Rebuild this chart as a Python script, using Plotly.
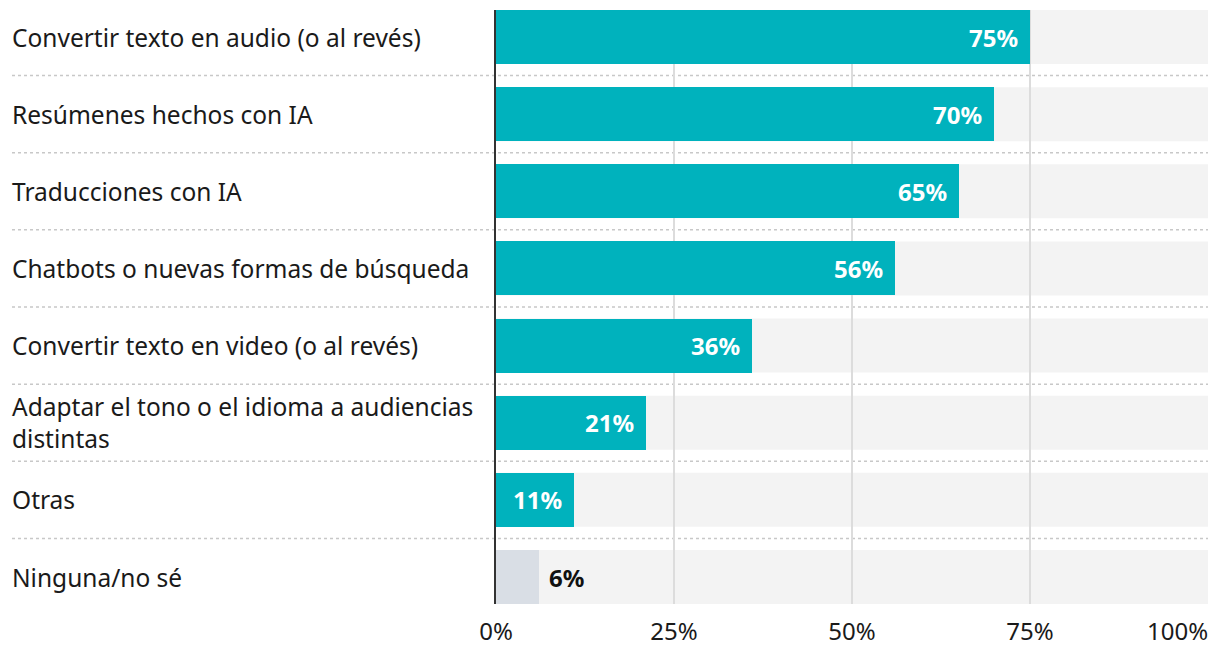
import plotly.graph_objects as go

categories = [
    "Convertir texto en audio (o al revés)",
    "Resúmenes hechos con IA",
    "Traducciones con IA",
    "Chatbots o nuevas formas de búsqueda",
    "Convertir texto en video (o al revés)",
    "Adaptar el tono o el idioma a audiencias<br>distintas",
    "Otras",
    "Ninguna/no sé",
]
values = [75, 70, 65, 56, 36, 21, 11, 6]
highlight = [True, True, True, True, True, True, True, False]
tick_vals = [0, 25, 50, 75, 100]
tick_text = ["0%", "25%", "50%", "75%", "100%"]

TEAL = "#00b2bd"
GREY_BAR = "#d9dee5"
BG = "#f3f3f3"
FONT = "Noto Sans"
BAR_W = 0.7

# page body has an 8px margin; size the figure to compensate
OFF = 8
W, H = 1204, 642
ML, MR, MT, MB = 496 - OFF, 4, 10 - OFF, 46
plot_w = W - ML - MR

idx = list(range(len(categories)))

fig = go.Figure()
fig.add_trace(go.Bar(
    y=idx, x=values, orientation="h", width=BAR_W,
    marker=dict(color=[TEAL if h else GREY_BAR for h in highlight], line=dict(width=0)),
    hoverinfo="skip", showlegend=False,
))

shapes = []
for i in idx:
    shapes.append(dict(type="rect", xref="x", yref="y", x0=0, x1=100,
                       y0=i - BAR_W / 2, y1=i + BAR_W / 2,
                       fillcolor=BG, line=dict(width=0), layer="below"))
for i in idx[:-1]:
    shapes.append(dict(type="line", xref="paper", yref="y",
                       x0=(12 - 496) / plot_w, x1=1, y0=i + 0.5, y1=i + 0.5,
                       line=dict(color="#c8c8c8", width=1.5, dash="dot"), layer="below"))

annotations = []
for i, (c, v, h) in enumerate(zip(categories, values, highlight)):
    annotations.append(dict(
        xref="paper", yref="y", x=0, y=i, xanchor="left", yanchor="middle",
        xshift=10 - 496, text=c, showarrow=False, align="left",
        font=dict(family=FONT, size=24.5, color="#1a1a1a"),
    ))
    if h:
        annotations.append(dict(
            xref="x", yref="y", x=v, y=i, xanchor="right", yanchor="middle",
            xshift=-10, text=f"<b>{v}%</b>", showarrow=False,
            font=dict(family=FONT, size=24, color="white"),
        ))
    else:
        annotations.append(dict(
            xref="x", yref="y", x=v, y=i, xanchor="left", yanchor="middle",
            xshift=8, text=f"<b>{v}%</b>", showarrow=False,
            font=dict(family=FONT, size=24, color="#111111"),
        ))

# last tick label is right-aligned to the plot edge
annotations.append(dict(
    xref="x", yref="paper", x=tick_vals[-1], y=0, xanchor="right", yanchor="middle",
    xshift=2, yshift=-26, text=tick_text[-1], showarrow=False,
    font=dict(family=FONT, size=24, color="#1a1a1a"),
))
axis_text = tick_text[:-1] + [""]

fig.update_layout(
    width=W, height=H,
    margin=dict(l=ML, r=MR, t=MT, b=MB),
    paper_bgcolor="white", plot_bgcolor="white",
    bargap=0, barmode="overlay",
    shapes=shapes, annotations=annotations,
    xaxis=dict(range=[0, 100], tickvals=tick_vals, ticktext=axis_text,
               showgrid=True, gridcolor="#dcdcdc", gridwidth=2,
               zeroline=False, showline=False, ticks="",
               ticklabelstandoff=11,
               tickfont=dict(family=FONT, size=24, color="#1a1a1a"),
               fixedrange=True),
    yaxis=dict(range=[len(categories) - 1 + BAR_W / 2, -BAR_W / 2],
               showticklabels=False, showgrid=False, zeroline=False,
               showline=True, linecolor="#333333", linewidth=2, ticks="",
               fixedrange=True),
)

fig.write_html("out.html")
